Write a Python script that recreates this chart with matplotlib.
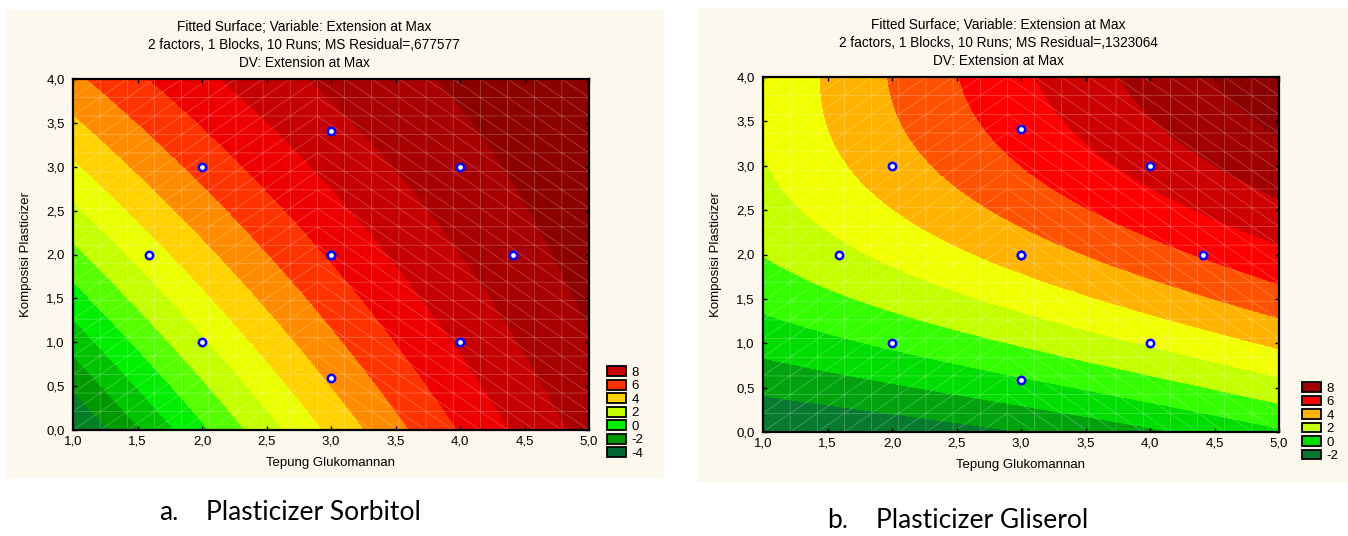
import matplotlib.pyplot as plt
import matplotlib.tri as mtri
import numpy as np
from matplotlib.colors import ListedColormap, BoundaryNorm
from matplotlib.patches import Patch, Rectangle
from matplotlib.ticker import FuncFormatter

plt.rcParams['font.family'] = ['Liberation Sans', 'DejaVu Sans']

# central composite design, 10 runs (centre point twice)
tepung = [1.59, 2.0, 2.0, 3.0, 3.0, 3.0, 3.0, 4.0, 4.0, 4.41]
komposisi = [2.0, 1.0, 3.0, 0.59, 2.0, 2.0, 3.41, 1.0, 3.0, 2.0]

# fitted extension at the runs
ext_sorbitol = [3.53, 2.84, 6.32, 5.14, 7.11, 7.11, 8.68, 8.12, 9.66, 9.60]
ext_gliserol = [2.74, 1.18, 4.53, 0.92, 4.43, 4.43, 6.43, 3.10, 7.36, 6.09]

# contour levels (band k runs from k to k+1) and band colours
levels_sorbitol = list(range(-4, 12))
colors_sorbitol = ['#006633', '#007f26', '#009900', '#00c300', '#00ee00',
                   '#55ff00', '#c4ff00', '#eaff00', '#ffd200', '#ff8c00',
                   '#ff3300', '#ee0000', '#c60000', '#a80000', '#8c0000']
levels_gliserol = list(range(-3, 11))
colors_gliserol = ['#0b5e34', '#077a30', '#00a30e', '#00dd00', '#33ff00',
                   '#c4ff00', '#f2ff00', '#ffb300', '#ff5200', '#ff0000',
                   '#cc0000', '#a00000', '#8b0000']

legend_sorbitol = [8, 6, 4, 2, 0, -2, -4]
legend_gliserol = [8, 6, 4, 2, 0, -2]

title_lines_sorbitol = ['Fitted Surface; Variable: Extension at Max',
                        '2 factors, 1 Blocks, 10 Runs; MS Residual=,677577',
                        'DV: Extension at Max']
title_lines_gliserol = ['Fitted Surface; Variable: Extension at Max',
                        '2 factors, 1 Blocks, 10 Runs; MS Residual=,1323064',
                        'DV: Extension at Max']

W, H = 1348, 536
CREAM = '#fcf8ee'
FS = 9.5


def fit_surface(x, y, z):
    # polynomial response surface, least squares
    x = np.asarray(x); y = np.asarray(y); z = np.asarray(z)
    A = np.column_stack([np.ones_like(x), x, y, x**2, y**2, x*y, x**2*y])
    coef, *_ = np.linalg.lstsq(A, z, rcond=None)
    return coef


def mesh(n=20):
    gx = np.linspace(1, 5, n)
    gy = np.linspace(0, 4, n)
    X, Y = np.meshgrid(gx, gy)
    tris = []
    for j in range(n - 1):
        for i in range(n - 1):
            p00 = j*n + i; p10 = p00 + 1; p01 = p00 + n; p11 = p01 + 1
            if i < (n - 1) // 2:
                tris += [[p00, p10, p11], [p00, p11, p01]]
            else:
                tris += [[p00, p10, p01], [p10, p11, p01]]
    return mtri.Triangulation(X.ravel(), Y.ravel(), np.array(tris))


def comma(v, pos):
    return '{:.1f}'.format(v).replace('.', ',')


def draw_panel(fig, box, rect, title_x, titles, z, levels, colors, leg_vals, leg_anchor):
    # cream background of the exported graph
    fig.add_artist(Rectangle((box[0]/W, 1 - box[3]/H), (box[2]-box[0])/W, (box[3]-box[1])/H,
                             transform=fig.transFigure, facecolor=CREAM, edgecolor='none', zorder=0))
    l, t, r, b = rect
    ax = fig.add_axes([l/W, 1 - b/H, (r-l)/W, (b-t)/H])

    c = fit_surface(tepung, komposisi, z)
    tri = mesh()
    X, Y = tri.x, tri.y
    Z = c[0] + c[1]*X + c[2]*Y + c[3]*X**2 + c[4]*Y**2 + c[5]*X*Y + c[6]*X**2*Y
    cmap = ListedColormap(colors)
    norm = BoundaryNorm(levels, cmap.N)
    ax.tricontourf(tri, Z, levels=levels, cmap=cmap, norm=norm)
    ax.triplot(tri, color='white', lw=0.5, alpha=0.3)
    ax.scatter(tepung, komposisi, s=28, facecolor='white', edgecolor='#0000ff',
               linewidth=1.8, zorder=5)

    ax.set_xlim(1, 5)
    ax.set_ylim(0, 4)
    ax.set_xticks(np.arange(1, 5.01, 0.5))
    ax.set_yticks(np.arange(0, 4.01, 0.5))
    ax.xaxis.set_major_formatter(FuncFormatter(comma))
    ax.yaxis.set_major_formatter(FuncFormatter(comma))
    ax.tick_params(direction='in', top=True, right=True, length=3, width=1,
                   labelsize=FS, colors='black')
    ax.tick_params(axis='y', pad=6)
    ax.tick_params(axis='x', pad=4)
    for s in ax.spines.values():
        s.set_linewidth(1.6)
    ax.set_xlabel('Tepung Glukomannan', fontsize=FS, labelpad=7)
    ax.set_ylabel('Komposisi Plasticizer', fontsize=FS, labelpad=10)

    for k, line in enumerate(titles):
        fig.text(title_x/W, 1 - (t - 52 + 18*k)/H, line, ha='center', va='center', fontsize=9.8)

    handles = [Patch(facecolor=colors[levels.index(v)], edgecolor='black', linewidth=1.3)
               for v in leg_vals]
    ax.legend(handles, [str(v) for v in leg_vals], loc='lower left',
              bbox_to_anchor=leg_anchor, frameon=False, fontsize=FS,
              handlelength=1.4, handleheight=0.75, labelspacing=0.08,
              handletextpad=0.45, borderpad=0, borderaxespad=0)
    return ax


fig = plt.figure(figsize=(W/100, H/100), dpi=100)
fig.patch.set_facecolor('white')

draw_panel(fig, (6, 10, 664, 478), (73, 79, 589, 430), 304, title_lines_sorbitol,
           ext_sorbitol, levels_sorbitol, colors_sorbitol, legend_sorbitol, (1.035, -0.085))
draw_panel(fig, (698, 8, 1348, 482), (763, 77, 1279, 432), 998, title_lines_gliserol,
           ext_gliserol, levels_gliserol, colors_gliserol, legend_gliserol, (1.045, -0.085))

cap = dict(fontsize=19, family=['Lato', 'DejaVu Sans'], va='center')
fig.text(159/W, 1 - 512/H, 'a.', **cap)
fig.text(206/W, 1 - 512/H, 'Plasticizer Sorbitol', **cap)
fig.text(827/W, 1 - 520/H, 'b.', **cap)
fig.text(876/W, 1 - 520/H, 'Plasticizer Gliserol', **cap)

fig.savefig('out.png', dpi=100)
